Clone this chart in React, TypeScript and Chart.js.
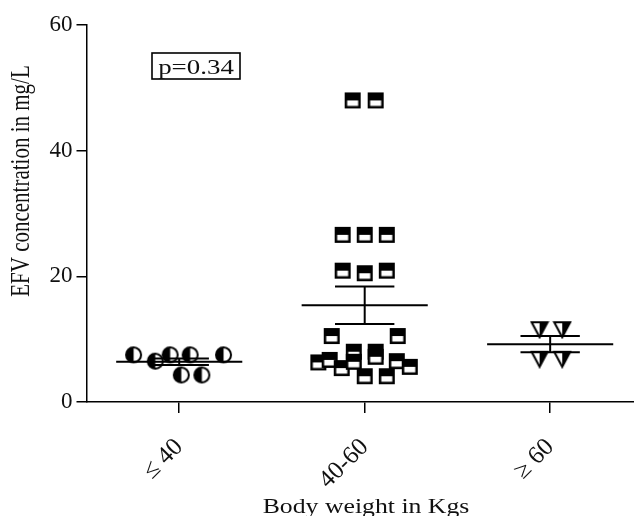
import React, { useEffect, useRef } from 'react';
import { Chart, registerables } from 'chart.js';

Chart.register(...registerables);

// ---------- data ----------
const categories = ['≤ 40', '40-60', '≥ 60'];

const lowWeightValues = [7.5, 6.5, 7.5, 7.5, 7.5, 4.3, 4.3];
const lowWeightJitter = [-0.246, -0.129, -0.049, 0.059, 0.239, 0.011, 0.122];

const midWeightValues = [48, 48, 26.6, 26.6, 26.6, 20.9, 20.5, 20.9, 10.5, 10.5, 6.3, 6.7, 5.4, 8.0, 6.4, 4.1, 8.0, 7.2, 4.1, 6.5, 5.6];
const midWeightJitter = [-0.065, 0.059, -0.119, 0, 0.119, -0.119, 0, 0.119, -0.178, 0.178, -0.25, -0.189, -0.124, -0.059, -0.059, 0, 0.059, 0.059, 0.119, 0.173, 0.243];

const highWeightValues = [11.5, 11.5, 6.8, 6.8];
const highWeightJitter = [-0.057, 0.065, -0.057, 0.065];

const groupMeans = [6.4, 15.4, 9.2];
const groupSems = [0.53, 3.0, 1.3];

const yTickValues = [0, 20, 40, 60];
const pValueLabel = 'p=0.34';
const xAxisTitle = 'Body weight in Kgs';
const yAxisTitle = 'EFV concentration in mg/L';

// ---------- marker glyphs ----------
function makeHalfCircle(d: number) {
  const c = document.createElement('canvas');
  const s = d + 4;
  c.width = s; c.height = s;
  const ctx = c.getContext('2d')!;
  const cx = s / 2, r = d / 2;
  ctx.beginPath(); ctx.arc(cx, cx, r, 0, Math.PI * 2); ctx.fillStyle = '#fff'; ctx.fill();
  ctx.beginPath(); ctx.arc(cx, cx, r, Math.PI / 2, Math.PI * 1.5); ctx.closePath(); ctx.fillStyle = '#000'; ctx.fill();
  ctx.beginPath(); ctx.arc(cx, cx, r, 0, Math.PI * 2); ctx.lineWidth = 2; ctx.strokeStyle = '#000'; ctx.stroke();
  return c;
}

function makeHalfSquare(sz: number) {
  const c = document.createElement('canvas');
  c.width = sz + 2; c.height = sz + 2;
  const ctx = c.getContext('2d')!;
  ctx.fillStyle = '#000';
  ctx.fillRect(1, 1, sz, sz);
  ctx.fillStyle = '#fff';
  ctx.fillRect(1 + 2.5, 1 + sz * 0.5, sz - 5, sz * 0.5 - 2.5);
  return c;
}

function makeHalfTriangle(w: number, h: number) {
  const c = document.createElement('canvas');
  c.width = w + 4; c.height = h + 4;
  const ctx = c.getContext('2d')!;
  const o = 2;
  ctx.beginPath(); ctx.moveTo(o, o); ctx.lineTo(o + w, o); ctx.lineTo(o + w / 2, o + h); ctx.closePath();
  ctx.fillStyle = '#fff'; ctx.fill();
  ctx.beginPath(); ctx.moveTo(o + w / 2, o); ctx.lineTo(o + w, o); ctx.lineTo(o + w / 2, o + h); ctx.closePath();
  ctx.fillStyle = '#000'; ctx.fill();
  ctx.beginPath(); ctx.moveTo(o, o); ctx.lineTo(o + w, o); ctx.lineTo(o + w / 2, o + h); ctx.closePath();
  ctx.lineWidth = 2; ctx.lineJoin = 'miter'; ctx.strokeStyle = '#000'; ctx.stroke();
  return c;
}

const FONT = '"Liberation Serif", "Times New Roman", serif';

const annotationPlugin = {
  id: 'annotations',
  afterDraw(chart: any) {
    const { ctx, chartArea } = chart;
    ctx.save();
    ctx.fillStyle = '#111';
    ctx.strokeStyle = '#000';

    // y title
    ctx.save();
    ctx.font = `21px ${FONT}`;
    ctx.translate(chartArea.left - 58, chartArea.top + 156);
    ctx.rotate(-Math.PI / 2);
    ctx.scale(1, 1.25);
    ctx.textAlign = 'center';
    ctx.textBaseline = 'alphabetic';
    ctx.fillText(yAxisTitle, 0, 0);
    ctx.restore();

    // x title
    ctx.save();
    ctx.font = `22px ${FONT}`;
    ctx.translate(366, chart.height - 3);
    ctx.scale(1.17, 1);
    ctx.textAlign = 'center';
    ctx.textBaseline = 'alphabetic';
    ctx.fillText(xAxisTitle, 0, 0);
    ctx.restore();

    // p-value box
    const bx = chartArea.left + 65.5, by = chartArea.top + 28, bw = 88, bh = 26;
    ctx.lineWidth = 1.6;
    ctx.strokeRect(bx, by, bw, bh);
    ctx.save();
    ctx.font = `21px ${FONT}`;
    ctx.translate(bx + bw / 2, by + 21);
    ctx.scale(1.28, 1);
    ctx.textAlign = 'center';
    ctx.textBaseline = 'alphabetic';
    ctx.fillText(pValueLabel, 0, 0);
    ctx.restore();

    ctx.restore();
  },
};

export default function App() {
  const canvasRef = useRef<HTMLCanvasElement | null>(null);

  useEffect(() => {
    if (!canvasRef.current) return;
    const circle = makeHalfCircle(15);
    const square = makeHalfSquare(16);
    const triangle = makeHalfTriangle(16, 15);

    const toPoints = (vals: number[], jit: number[], g: number) =>
      vals.map((v, i) => ({ x: g + 1 + jit[i], y: v }));

    const meanHalf = 0.34;
    const capHalf = 0.16;
    const meanLines: any[] = [];
    const semLines: any[] = [];
    groupMeans.forEach((m, g) => {
      const c = g + 1;
      const s = groupSems[g];
      meanLines.push({ x: c - meanHalf, y: m }, { x: c + meanHalf, y: m }, { x: c, y: null });
      semLines.push(
        { x: c - capHalf, y: m + s }, { x: c + capHalf, y: m + s }, { x: c, y: null },
        { x: c - capHalf, y: m - s }, { x: c + capHalf, y: m - s }, { x: c, y: null },
        { x: c, y: m - s }, { x: c, y: m + s }, { x: c, y: null },
      );
    });

    const lineDs = (data: any[]) => ({
      type: 'scatter',
      data,
      showLine: true,
      spanGaps: false,
      borderColor: '#000',
      borderWidth: 2,
      pointRadius: 0,
      pointHoverRadius: 0,
      fill: false,
    });

    const chart = new Chart(canvasRef.current, {
      type: 'scatter',
      data: {
        datasets: [
          lineDs(meanLines) as any,
          lineDs(semLines) as any,
          { data: toPoints(lowWeightValues, lowWeightJitter, 0), pointStyle: circle as any, pointRadius: 8 },
          { data: toPoints(midWeightValues, midWeightJitter, 1), pointStyle: square as any, pointRadius: 8 },
          { data: toPoints(highWeightValues, highWeightJitter, 2), pointStyle: triangle as any, pointRadius: 8 },
        ],
      },
      options: {
        responsive: false,
        animation: false,
        devicePixelRatio: 1,
        layout: { autoPadding: false, padding: { top: 25, left: 0, right: 0, bottom: 0 } },
        plugins: { legend: { display: false }, tooltip: { enabled: false }, title: { display: false } },
        scales: {
          x: {
            type: 'linear',
            min: 0.5,
            max: 3.452,
            afterBuildTicks: (s: any) => { s.ticks = categories.map((_, i) => ({ value: i + 1 })); },
            afterFit: (s: any) => { s.height = 114; s.paddingLeft = 0; s.paddingRight = 0; },
            grid: { display: true, drawOnChartArea: false, drawTicks: true, tickLength: 11, color: '#000', lineWidth: 1.5 },
            border: { display: true, color: '#000', width: 1.5 },
            ticks: {
              autoSkip: false,
              minRotation: 45,
              maxRotation: 45,
              padding: 9,
              color: '#111',
              font: { family: FONT, size: 25, lineHeight: 2.4 },
              callback: (v: any) => categories[Math.round(Number(v)) - 1] ?? '',
            },
          },
          y: {
            type: 'linear',
            min: 0,
            max: 60,
            afterBuildTicks: (s: any) => { s.ticks = yTickValues.map((v) => ({ value: v })); },
            afterFit: (s: any) => { s.width = 86.5; s.paddingTop = 0; s.paddingBottom = 0; },
            grid: { display: true, drawOnChartArea: false, drawTicks: true, tickLength: 10, color: '#000', lineWidth: 1.5 },
            border: { display: true, color: '#000', width: 1.5 },
            ticks: { padding: 4, color: '#111', font: { family: FONT, size: 23 } },
          },
        },
      } as any,
      plugins: [annotationPlugin],
    });
    return () => chart.destroy();
  }, []);

  return (
    <div style={{ position: 'absolute', left: 0, top: 0, width: 634, height: 516, background: '#fff' }}>
      <canvas ref={canvasRef} width={634} height={516} style={{ display: 'block', width: 634, height: 516 }} />
    </div>
  );
}
